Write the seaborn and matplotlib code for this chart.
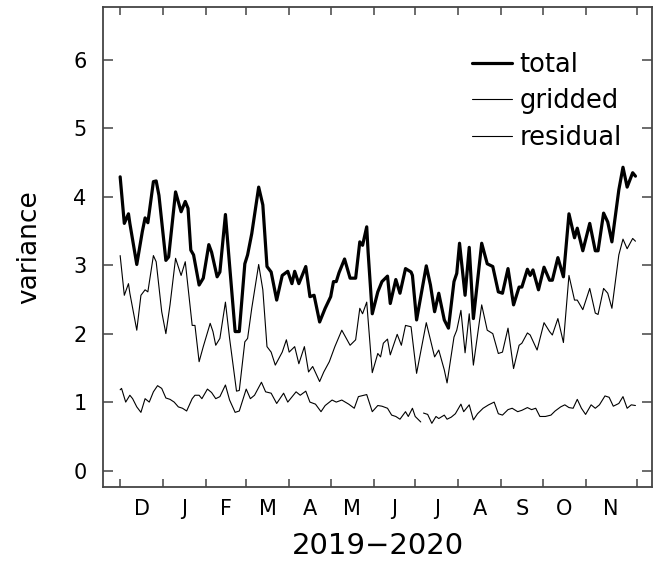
import numpy as np
import pandas as pd
import matplotlib
matplotlib.use("Agg")
import matplotlib.pyplot as plt
import seaborn as sns

# ---- data (days since 2019-12-01) ----
total_day = [0, 3, 6, 7, 12, 16, 18, 20, 24, 26, 28, 33, 35, 40, 44, 47, 49, 51, 53, 57,
             60, 64, 66, 70, 72, 76, 79, 83, 86, 90, 92, 95, 100, 103, 106, 109, 113, 117,
             119, 121, 124, 126, 129, 134, 137, 140, 144, 148, 152, 154, 156, 158, 162,
             166, 170, 173, 175, 178, 179, 182, 186, 189, 193, 195, 199, 202, 206, 210,
             211, 214, 221, 224, 227, 230, 234, 237, 241, 243, 245, 249, 252, 255, 261,
             265, 269, 273, 276, 280, 284, 288, 290, 294, 296, 298, 302, 306, 310, 312,
             316, 320, 324, 328, 330, 334, 339, 343, 345, 349, 352, 355, 360, 363, 366,
             370, 372]
total_val = [4.29, 3.61, 3.75, 3.61, 3.01, 3.49, 3.69, 3.62, 4.22, 4.23, 4.02, 3.07, 3.12,
             4.07, 3.78, 3.93, 3.83, 3.22, 3.15, 2.71, 2.81, 3.30, 3.19, 2.83, 2.90, 3.74,
             3.00, 2.03, 2.03, 3.02, 3.15, 3.46, 4.14, 3.88, 2.98, 2.90, 2.49, 2.85, 2.88,
             2.91, 2.73, 2.91, 2.73, 2.98, 2.54, 2.56, 2.17, 2.37, 2.54, 2.76, 2.76, 2.89,
             3.09, 2.81, 2.81, 3.34, 3.29, 3.56, 3.19, 2.29, 2.61, 2.76, 2.84, 2.44, 2.79,
             2.59, 2.95, 2.90, 2.85, 2.20, 2.99, 2.71, 2.32, 2.59, 2.20, 2.08, 2.76, 2.88,
             3.32, 2.56, 3.26, 2.22, 3.32, 3.02, 2.98, 2.61, 2.59, 2.95, 2.42, 2.68, 2.68,
             2.94, 2.85, 2.93, 2.64, 2.97, 2.78, 2.78, 3.11, 2.83, 3.75, 3.40, 3.54, 3.21,
             3.61, 3.21, 3.21, 3.76, 3.63, 3.34, 4.10, 4.43, 4.14, 4.35, 4.30]

gridded_day = [0, 3, 6, 7, 12, 15, 18, 20, 24, 26, 30, 33, 36, 40, 44, 47, 52, 54, 57, 60,
               65, 67, 69, 72, 76, 79, 84, 86, 90, 92, 95, 100, 103, 106, 109, 112, 117,
               120, 122, 126, 129, 133, 136, 139, 144, 147, 151, 155, 160, 166, 170, 173,
               175, 178, 182, 186, 188, 190, 193, 195, 200, 203, 206, 210, 214, 221, 224,
               227, 230, 234, 236, 241, 243, 246, 249, 252, 255, 261, 265, 269, 273, 276,
               280, 284, 288, 290, 294, 296, 301, 306, 310, 312, 316, 320, 324, 328, 330,
               334, 339, 343, 345, 349, 352, 355, 360, 363, 366, 370, 372]
gridded_val = [3.14, 2.56, 2.73, 2.59, 2.05, 2.56, 2.64, 2.61, 3.14, 3.05, 2.32, 2.00, 2.42,
               3.10, 2.85, 3.05, 2.12, 2.12, 1.59, 1.81, 2.15, 2.03, 1.83, 1.93, 2.46, 1.93,
               1.16, 1.17, 1.88, 1.93, 2.37, 3.01, 2.64, 1.81, 1.73, 1.54, 1.73, 1.91, 1.73,
               1.81, 1.56, 1.81, 1.44, 1.52, 1.30, 1.44, 1.59, 1.81, 2.05, 1.83, 1.91, 2.37,
               2.29, 2.46, 1.43, 1.71, 1.66, 1.86, 1.92, 1.69, 1.99, 1.83, 2.12, 2.10, 1.42,
               2.16, 1.91, 1.66, 1.76, 1.47, 1.28, 1.95, 2.05, 2.34, 1.72, 2.29, 1.54, 2.42,
               2.05, 2.00, 1.71, 1.73, 2.08, 1.49, 1.83, 1.86, 2.01, 1.98, 1.76, 2.16, 2.03,
               1.98, 2.22, 1.87, 2.85, 2.49, 2.49, 2.35, 2.66, 2.30, 2.28, 2.66, 2.59, 2.37,
               3.15, 3.38, 3.24, 3.39, 3.35]

residual_day = [0, 1, 4, 7, 9, 12, 15, 18, 21, 24, 27, 30, 33, 36, 39, 42, 45, 48, 52, 54,
                57, 59, 63, 66, 69, 72, 76, 79, 83, 86, 91, 94, 97, 102, 105, 109, 113, 118,
                121, 123, 127, 130, 134, 137, 141, 145, 148, 153, 156, 160, 165, 169, 172,
                178, 182, 186, 189, 193, 196, 199, 202, 206, 208, 211, 213, 217, 218, 219,
                222, 225, 228, 230, 234, 236, 239, 242, 246, 248, 252, 255, 258, 262, 266,
                270, 273, 276, 280, 283, 287, 290, 294, 297, 300, 303, 307, 311, 314, 318,
                321, 324, 327, 330, 333, 336, 340, 343, 346, 350, 353, 356, 360, 363, 366,
                369, 372]
residual_val = [1.18, 1.20, 1.00, 1.10, 1.05, 0.93, 0.85, 1.05, 1.00, 1.15, 1.24, 1.20, 1.06,
                1.04, 1.00, 0.93, 0.91, 0.87, 1.05, 1.10, 1.10, 1.05, 1.19, 1.14, 1.05, 1.08,
                1.25, 1.03, 0.85, 0.87, 1.19, 1.05, 1.10, 1.29, 1.15, 1.13, 0.98, 1.13, 1.00,
                1.05, 1.15, 1.10, 1.16, 1.00, 0.97, 0.86, 0.95, 1.03, 1.00, 1.03, 0.97, 0.91,
                1.08, 1.11, 0.86, 0.95, 0.94, 0.91, 0.81, 0.79, 0.75, 0.86, 0.79, 0.91, 0.79,
                0.71, np.nan, 0.84, 0.82, 0.69, 0.79, 0.76, 0.81, 0.75, 0.78, 0.83, 0.97, 0.86,
                0.96, 0.74, 0.83, 0.91, 0.96, 1.00, 0.83, 0.81, 0.89, 0.91, 0.86, 0.88, 0.92,
                0.89, 0.91, 0.79, 0.79, 0.81, 0.87, 0.93, 0.96, 0.92, 0.91, 1.04, 0.91, 0.82,
                0.96, 0.91, 0.96, 1.09, 1.07, 0.94, 0.98, 1.08, 0.91, 0.96, 0.95]

month_labels = ["D", "J", "F", "M", "A", "M", "J", "J", "A", "S", "O", "N"]
start = pd.Timestamp("2019-12-01")
month_starts = [(pd.Timestamp(2019 + (11 + i) // 12, (11 + i) % 12 + 1, 1) - start).days
                for i in range(12)]
end_tick = 373  # last tick (end of record)
y_ticks = [0, 1, 2, 3, 4, 5, 6]

# ---- figure ----
sns.set_theme(style="ticks")
plt.rcParams["font.family"] = ["DejaVu Sans"]
plt.rcParams["text.color"] = "black"
plt.rcParams["axes.labelcolor"] = "black"
plt.rcParams["xtick.labelcolor"] = "black"
plt.rcParams["ytick.labelcolor"] = "black"

fig = plt.figure(figsize=(6.61, 5.63), dpi=100)
ax = fig.add_axes([0.156, 0.135, 0.8305, 0.8525])

df_t = pd.DataFrame({"day": total_day, "v": total_val})
df_g = pd.DataFrame({"day": gridded_day, "v": gridded_val})
df_r = pd.DataFrame({"day": residual_day, "v": residual_val})
df_r["seg"] = df_r["v"].isna().cumsum()

sns.lineplot(data=df_t, x="day", y="v", color="black", linewidth=2.3, ax=ax, label="total")
sns.lineplot(data=df_g, x="day", y="v", color="black", linewidth=0.8, ax=ax, label="gridded")
first = True
for s, part in df_r.dropna().groupby("seg"):
    sns.lineplot(data=part, x="day", y="v", color="black", linewidth=0.8, ax=ax,
                 label="residual" if first else None)
    first = False

ax.set_xlim(-12.3, 384)
ax.set_ylim(-0.24, 6.77)

ticks = month_starts + [end_tick]
ax.set_xticks(ticks)
ax.set_xticklabels([])
mids = [(ticks[i] + ticks[i + 1]) / 2 for i in range(12)]
ax.set_xticks(mids, minor=True)
ax.set_xticklabels(month_labels, minor=True, fontsize=15)
ax.tick_params(axis="x", which="minor", length=0, pad=9)
ax.tick_params(axis="x", which="major", direction="in", length=6, width=1.1,
               top=True, bottom=True, color="#444")

ax.set_yticks(y_ticks)
ax.set_yticklabels([str(t) for t in y_ticks], fontsize=15)
ax.tick_params(axis="y", direction="in", length=7, width=1.1, left=True, right=True,
               pad=12, color="#444")

for sp in ax.spines.values():
    sp.set_color("#444")
    sp.set_linewidth(1.3)

ax.set_xlabel("2019\u22122020", fontsize=21, labelpad=9)
ax.set_ylabel("variance", fontsize=19, labelpad=22)

leg = ax.legend(loc="upper left", bbox_to_anchor=(0.672, 0.907), frameon=False,
                fontsize=18.5, handlelength=1.55, handletextpad=0.3, labelspacing=0.42,
                borderpad=0, borderaxespad=0)
for t in leg.get_texts():
    t.set_color("black")

fig.savefig("out.png", dpi=100)
